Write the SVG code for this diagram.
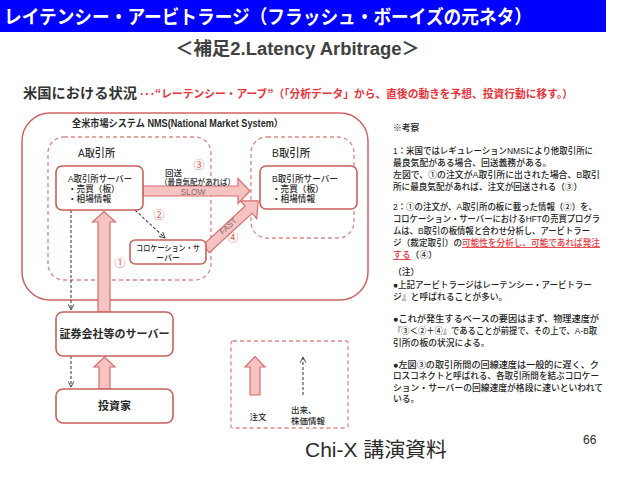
<svg xmlns="http://www.w3.org/2000/svg" width="638" height="479" viewBox="0 0 638 479">
<defs>
<style>
text{font-family:"Liberation Sans","Noto Sans CJK JP",sans-serif;fill:#2a2a2a}
.jp{font-family:"Noto Sans CJK JP",sans-serif}
.box{fill:#fff;stroke:#c9605c;stroke-width:1.6}
.outer{fill:none;stroke:#d06464;stroke-width:1.5}
.dbox{fill:none;stroke:#dc8888;stroke-width:1.3;stroke-dasharray:4 3}
.arr{fill:#f6c3c3;stroke:#d86c6c;stroke-width:1.2}
.dash{fill:none;stroke:#444;stroke-width:1.1;stroke-dasharray:3 2}
.num{fill:#e8554e;font-size:11px}
.red{fill:#e8343c}
.st{font-size:8.6px;font-weight:500}
.rt{font-size:8.8px;font-weight:500;fill:#222}
</style>
<marker id="chev" viewBox="0 0 10 10" refX="9" refY="5" markerWidth="7" markerHeight="7" orient="auto" markerUnits="userSpaceOnUse">
<path d="M1,1 L9,5 L1,9" fill="none" stroke="#444" stroke-width="1.4"/>
</marker>
</defs>
<rect width="638" height="479" fill="#fff"/>

<g id="title">
<rect x="0" y="0" width="606" height="32" fill="#0000ff"/>
<text x="4" y="24" font-size="19" font-weight="bold" style="fill:#fff" class="jp" textLength="528" lengthAdjust="spacingAndGlyphs">レイテンシー・アービトラージ（フラッシュ・ボーイズの元ネタ）</text>
</g>
<text x="175" y="55" font-size="18" font-weight="bold" textLength="245" lengthAdjust="spacingAndGlyphs" style="fill:#404040">＜補足2.Latency Arbitrage＞</text>

<g id="heading">
<text x="23" y="98" font-size="14" font-weight="bold" class="jp" textLength="114" lengthAdjust="spacingAndGlyphs" style="fill:#333">米国における状況</text>
<text x="139" y="98" font-size="11" font-weight="bold" class="jp red" textLength="434" lengthAdjust="spacingAndGlyphs">･･･“レーテンシー・アーブ”（「分析データ」から、直後の動きを予想、投資行動に移す。）</text>
</g>

<g id="nms">
<rect class="outer" x="22" y="113" width="346" height="187" rx="28"/>
<text x="72" y="127" font-size="10" font-weight="bold" textLength="211" lengthAdjust="spacingAndGlyphs">全米市場システム NMS(National Market System）</text>
</g>

<g id="exA">
<rect class="dbox" x="48" y="137" width="163" height="143" rx="16"/>
<text x="78" y="157" font-size="11" font-weight="500" textLength="37" lengthAdjust="spacingAndGlyphs">A取引所</text>
</g>
<g id="exB">
<rect class="dbox" x="251" y="137" width="103" height="101" rx="16"/>
<text x="272" y="157" font-size="11" font-weight="500" textLength="38" lengthAdjust="spacingAndGlyphs">B取引所</text>
</g>

<g id="connectors">
<polygon class="arr" points="143,186 238,186 238,178.5 250,191 238,203.5 238,196 143,196"/>
<polygon class="arr" transform="translate(206,249) rotate(-42.7)" points="0,-5 58,-5 58,-12 71,0 58,12 58,5 0,5"/>
<polygon class="arr" points="98,312 98,222 92.5,222 104,211.5 115.5,222 110,222 110,312"/>
<polygon class="arr" points="99,389 99,367 94,367 104.5,357 115,367 110,367 110,389"/>
<line class="dash" x1="135" y1="210" x2="165" y2="238" marker-end="url(#chev)"/>
<line class="dash" x1="71" y1="210" x2="71" y2="310" marker-end="url(#chev)"/>
<line class="dash" x1="71" y1="356" x2="71" y2="387" marker-end="url(#chev)"/>
<text x="165" y="176" font-size="8.5" font-weight="500">回送</text>
<text x="160" y="185" font-size="8" font-weight="500" textLength="75" lengthAdjust="spacingAndGlyphs">（最良気配があれば）</text>
<text x="193" y="195" font-size="8.5" text-anchor="middle" style="fill:#8a6a6a">SLOW</text>
<text x="228" y="229" font-size="8" text-anchor="middle" transform="rotate(-42.7 228 226)" style="fill:#8a6a6a">FAST</text>
<text class="num" x="199" y="169" text-anchor="middle">③</text>
<text class="num" x="159" y="219" text-anchor="middle">②</text>
<text class="num" x="233" y="242" text-anchor="middle">④</text>
<text class="num" x="120" y="267" text-anchor="middle">①</text>
</g>

<g id="serverA">
<rect class="box" x="56" y="166" width="87" height="44" rx="6"/>
<text class="st" x="68" y="181.5" textLength="64" lengthAdjust="spacingAndGlyphs">A取引所サーバー</text>
<text class="st" x="68" y="191.5">・売買（板）</text>
<text class="st" x="68" y="201.5">・相場情報</text>
</g>
<g id="serverB">
<rect class="box" x="260" y="166" width="97" height="43" rx="6"/>
<text class="st" x="272" y="181.5" textLength="66" lengthAdjust="spacingAndGlyphs">B取引所サーバー</text>
<text class="st" x="272" y="191.5">・売買（板）</text>
<text class="st" x="272" y="201.5">・相場情報</text>
</g>
<g id="colo">
<rect class="box" x="130" y="240" width="76" height="24" rx="5"/>
<text x="168" y="250.5" font-size="8" font-weight="500" text-anchor="middle" textLength="64" lengthAdjust="spacingAndGlyphs">コロケーション・サ</text>
<text x="168" y="261" font-size="8" font-weight="500" text-anchor="middle">ーバー</text>
</g>
<g id="broker">
<rect class="box" x="56" y="312" width="117" height="44" rx="7"/>
<text x="114.5" y="338" font-size="11" font-weight="bold" text-anchor="middle">証券会社等のサーバー</text>
</g>
<g id="investor">
<rect class="box" x="56" y="389" width="117" height="34" rx="7"/>
<text x="114.5" y="410" font-size="11" font-weight="bold" text-anchor="middle">投資家</text>
</g>

<g id="legend">
<rect class="dbox" x="231" y="341" width="117" height="87" rx="2"/>
<polygon class="arr" points="250,395 250,367 245,367 255,356.5 265,367 260,367 260,395"/>
<line class="dash" x1="303" y1="395" x2="303" y2="357" marker-end="url(#chev)"/>
<text x="258" y="420" font-size="8.5" font-weight="500" text-anchor="middle">注文</text>
<text x="291" y="413" font-size="8.5" font-weight="500">出来、</text>
<text x="291" y="424" font-size="8.5" font-weight="500">株価情報</text>
</g>

<g id="notes">
<text class="rt" x="393" y="131">※考察</text>
<text class="rt" x="393" y="154" textLength="200" lengthAdjust="spacingAndGlyphs">1：米国ではレギュレーションNMSにより他取引所に</text>
<text class="rt" x="393" y="166">最良気配がある場合、回送義務がある。</text>
<text class="rt" x="393" y="178" textLength="207" lengthAdjust="spacingAndGlyphs">左図で、①の注文がA取引所に出された場合、B取引</text>
<text class="rt" x="393" y="190" textLength="189" lengthAdjust="spacingAndGlyphs">所に最良気配があれば、注文が回送される（③）</text>
<text class="rt" x="393" y="210" textLength="204" lengthAdjust="spacingAndGlyphs">2：①の注文が、A取引所の板に載った情報（②）を、</text>
<text class="rt" x="393" y="222" textLength="207" lengthAdjust="spacingAndGlyphs">コロケーション・サーバーにおけるHFTの売買プログラ</text>
<text class="rt" x="393" y="234" textLength="197" lengthAdjust="spacingAndGlyphs">ムは、B取引の板情報と合わせ分析し、アービトラー</text>
<text class="rt" x="393" y="246" textLength="207" lengthAdjust="spacingAndGlyphs">ジ（裁定取引）の<tspan class="red" text-decoration="underline">可能性を分析し、可能であれば発注</tspan></text>
<text class="rt" x="393" y="258"><tspan class="red" text-decoration="underline">する</tspan>（④）</text>
<text class="rt" x="393" y="275">（注）</text>
<text class="rt" x="393" y="288" textLength="199" lengthAdjust="spacingAndGlyphs">●上記アービトラージはレーテンシー・アービトラー</text>
<text class="rt" x="393" y="300">ジ』と呼ばれることが多い。</text>
<text class="rt" x="393" y="322" textLength="206" lengthAdjust="spacingAndGlyphs">●これが発生するベースの要因はまず、物理速度が</text>
<text class="rt" x="393" y="334" textLength="204" lengthAdjust="spacingAndGlyphs">『③＜②＋④』であることが前提で、その上で、A-B取</text>
<text class="rt" x="393" y="346">引所の板の状況による。</text>
<text class="rt" x="393" y="368" textLength="206" lengthAdjust="spacingAndGlyphs">●左図③の取引所間の回線速度は一般的に遅く、ク</text>
<text class="rt" x="393" y="379" textLength="206" lengthAdjust="spacingAndGlyphs">ロスコネクトと呼ばれる、各取引所間を結ぶコロケー</text>
<text class="rt" x="393" y="391" textLength="210" lengthAdjust="spacingAndGlyphs">ション・サーバーの回線速度が格段に速いといわれて</text>
<text class="rt" x="393" y="402">いる。</text>
</g>

<g id="footer">
<text x="305" y="457" font-size="20" textLength="142" lengthAdjust="spacingAndGlyphs">Chi-X 講演資料</text>
<text x="583" y="444" font-size="12">66</text>
</g>
</svg>
